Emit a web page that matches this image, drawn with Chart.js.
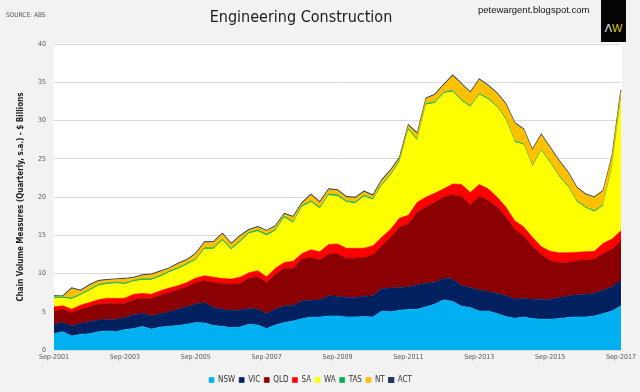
<!DOCTYPE html>
<html><head><meta charset="utf-8">
<script src="https://cdn.jsdelivr.net/npm/chart.js@4.4.0/dist/chart.umd.min.js"></script>
<style>
html,body{margin:0;padding:0;background:#f2f2f2;}
#wrap{position:relative;width:640px;height:392px;overflow:hidden;background:#f2f2f2;}
canvas{position:absolute;left:0;top:0;}
.src{position:absolute;left:6px;top:11px;font:6.5px 'DejaVu Sans Condensed',sans-serif;color:#555;}
.blog{position:absolute;left:478px;top:4px;font:9.5px 'Liberation Sans',Arial,sans-serif;color:#111;}
.logo{position:absolute;left:601px;top:0;width:25px;height:42px;background:#050505;font:11px 'Liberation Sans',sans-serif;text-align:center;line-height:12px;}
.logo span{position:relative;top:22px;}
</style></head>
<body><div id="wrap"><canvas id="c" width="640" height="392"></canvas>
<div class="src">SOURCE: ABS</div>
<div class="blog">petewargent.blogspot.com</div>
<div class="logo"><span style="color:#e8e8e8">Λ</span><span style="color:#d8c61c">W</span></div>
</div>
<script>
const quarters = [
'Sep-2001','Dec-2001',
'Mar-2002','Jun-2002','Sep-2002','Dec-2002',
'Mar-2003','Jun-2003','Sep-2003','Dec-2003',
'Mar-2004','Jun-2004','Sep-2004','Dec-2004',
'Mar-2005','Jun-2005','Sep-2005','Dec-2005',
'Mar-2006','Jun-2006','Sep-2006','Dec-2006',
'Mar-2007','Jun-2007','Sep-2007','Dec-2007',
'Mar-2008','Jun-2008','Sep-2008','Dec-2008',
'Mar-2009','Jun-2009','Sep-2009','Dec-2009',
'Mar-2010','Jun-2010','Sep-2010','Dec-2010',
'Mar-2011','Jun-2011','Sep-2011','Dec-2011',
'Mar-2012','Jun-2012','Sep-2012','Dec-2012',
'Mar-2013','Jun-2013','Sep-2013','Dec-2013',
'Mar-2014','Jun-2014','Sep-2014','Dec-2014',
'Mar-2015','Jun-2015','Sep-2015','Dec-2015',
'Mar-2016','Jun-2016','Sep-2016','Dec-2016',
'Mar-2017','Jun-2017','Sep-2017'];
const tickLabels = ['Sep-2001','Sep-2003','Sep-2005','Sep-2007','Sep-2009','Sep-2011','Sep-2013','Sep-2015','Sep-2017'];

const nsw = [2.14,2.40,1.84,2.05,2.14,2.40,2.50,2.40,2.67,2.80,
3.06,2.75,3.00,3.10,3.20,3.37,3.60,3.54,3.20,3.10,
2.93,3.00,3.37,3.28,2.80,3.28,3.60,3.80,4.10,4.30,
4.30,4.46,4.46,4.33,4.33,4.37,4.33,5.10,5.00,5.20,
5.30,5.33,5.64,6.00,6.56,6.34,5.73,5.55,5.10,5.10,
4.77,4.37,4.15,4.33,4.11,4.02,4.02,4.11,4.24,4.33,
4.33,4.46,4.77,5.11,5.77];
const vic = [1.23,1.20,1.31,1.40,1.56,1.53,1.50,1.60,1.58,1.80,
1.71,1.71,1.77,1.90,2.13,2.27,2.40,2.66,2.35,2.23,
2.27,2.20,2.09,2.05,1.97,2.05,2.17,2.06,2.33,2.20,
2.26,2.62,2.58,2.53,2.53,2.67,2.75,2.94,3.10,2.97,
2.96,3.19,3.10,2.83,2.84,2.93,2.67,2.62,2.73,2.55,
2.66,2.71,2.49,2.45,2.53,2.62,2.58,2.75,2.84,2.88,
2.97,2.97,3.05,3.15,3.36];
const qld = [1.73,1.73,1.75,1.88,1.94,2.07,2.08,2.08,1.83,1.96,
2.01,2.27,2.40,2.52,2.54,2.62,2.83,2.85,3.28,3.37,
3.40,3.50,3.94,4.24,4.06,4.59,4.93,4.84,5.47,5.60,
5.20,5.47,5.51,5.14,5.14,5.06,5.38,5.60,6.63,7.87,
8.24,9.48,9.96,10.47,10.60,11.03,11.67,10.83,12.24,11.95,
11.27,10.32,9.16,8.12,6.96,5.86,5.07,4.59,4.37,4.46,
4.50,4.47,4.78,4.94,5.17];
const sa = [0.54,0.44,0.43,0.53,0.56,0.56,0.70,0.65,0.70,0.74,
0.61,0.57,0.57,0.58,0.53,0.57,0.57,0.65,0.67,0.65,
0.67,0.80,0.70,0.79,0.74,0.78,0.75,0.90,0.70,1.00,
1.09,1.25,1.31,1.30,1.30,1.20,1.18,1.10,1.05,1.20,
1.10,1.30,1.30,1.20,1.07,1.40,1.57,1.60,1.57,1.47,
1.30,1.30,1.10,1.20,1.15,1.00,1.23,1.25,1.25,1.10,
1.05,1.00,1.35,1.30,1.30];
const wa = [1.14,1.01,1.31,1.31,1.54,1.84,1.82,1.97,1.82,1.66,
1.75,1.84,1.83,2.04,2.18,2.32,2.36,3.50,3.70,4.95,
3.83,4.60,5.10,5.14,5.38,4.90,5.85,5.00,6.10,6.20,
5.60,6.40,6.24,6.00,5.85,6.75,5.97,6.75,7.02,7.31,
11.15,8.05,12.05,11.75,12.48,12.05,10.91,11.15,11.71,11.68,
11.75,11.37,10.27,10.72,9.20,12.55,11.55,9.95,8.65,6.58,
5.70,5.15,4.90,9.35,17.15];
const tas = [0.15,0.15,0.15,0.15,0.16,0.16,0.16,0.16,0.15,0.15,
0.16,0.16,0.16,0.17,0.17,0.17,0.17,0.18,0.18,0.18,
0.18,0.18,0.17,0.17,0.17,0.17,0.18,0.18,0.18,0.19,
0.19,0.19,0.18,0.18,0.18,0.18,0.17,0.17,0.17,0.17,
0.17,0.16,0.16,0.16,0.16,0.16,0.16,0.15,0.15,0.15,
0.15,0.15,0.15,0.15,0.14,0.14,0.14,0.14,0.14,0.14,
0.14,0.15,0.15,0.15,0.15];
const nt = [0.08,0.05,1.23,0.40,0.53,0.42,0.37,0.34,0.52,0.31,
0.43,0.53,0.50,0.33,0.49,0.42,0.61,0.67,0.67,0.67,
0.57,0.57,0.27,0.37,0.42,0.37,0.27,0.57,0.27,0.77,
0.62,0.57,0.57,0.47,0.52,0.42,0.36,0.48,0.47,0.32,
0.42,0.72,0.62,0.92,0.92,1.92,2.02,1.72,1.82,1.62,
1.62,1.90,2.30,1.85,2.02,1.92,1.82,1.92,1.72,1.72,
1.62,1.72,1.77,1.30,1.02];
const act = [0.07,0.07,0.08,0.08,0.08,0.08,0.08,0.08,0.08,0.08,
0.08,0.08,0.08,0.08,0.09,0.09,0.09,0.09,0.09,0.09,
0.09,0.09,0.09,0.09,0.09,0.09,0.09,0.10,0.10,0.10,
0.10,0.10,0.10,0.10,0.10,0.10,0.10,0.10,0.10,0.10,
0.10,0.10,0.10,0.10,0.10,0.09,0.09,0.09,0.09,0.09,
0.09,0.09,0.09,0.08,0.08,0.08,0.08,0.08,0.08,0.08,
0.08,0.08,0.08,0.08,0.08];

const seriesNames = ['NSW','VIC','QLD','SA','WA','TAS','NT','ACT'];
const seriesData = [nsw, vic, qld, sa, wa, tas, nt, act];
const seriesColors = ['#00b0f0','#002060','#8b0000','#ff0000','#ffff00','#00b050','#ffc000','#1f3864'];

const NARROW = "'DejaVu Sans Condensed',sans-serif";

const datasets = seriesNames.map((name, i) => ({
  label: name,
  data: seriesData[i],
  backgroundColor: seriesColors[i],
  borderColor: seriesColors[i],
  borderWidth: i === 7 ? 1.2 : 0.6,
  fill: i === 0 ? 'origin' : '-1',
  pointRadius: 0,
  tension: 0
}));

const bgPlugin = {
  id: 'bg',
  beforeDraw(chart) {
    const {ctx, chartArea: {left, top, right, bottom}} = chart;
    ctx.save();
    ctx.fillStyle = '#f2f2f2';
    ctx.fillRect(0, 0, chart.width, chart.height);
    ctx.fillStyle = '#ffffff';
    ctx.fillRect(left, top - 1, right - left + 1, bottom - top + 1);
    ctx.restore();
  },
  afterLayout(chart) {
    if (chart.titleBlock) { chart.titleBlock.left = 0; chart.titleBlock.right = 602; }
    if (chart.legend) { chart.legend.top += 2; chart.legend.bottom += 2; }
  }
};

new Chart(document.getElementById('c'), {
  type: 'line',
  data: { labels: quarters, datasets },
  plugins: [bgPlugin],
  options: {
    responsive: false,
    animation: false,
    devicePixelRatio: 1,
    layout: { padding: { left: 0, right: 19, top: 0, bottom: 0 } },
    plugins: {
      tooltip: { enabled: false },
      title: {
        display: true,
        text: 'Engineering Construction',
        color: '#1a1a1a',
        font: { family: NARROW, size: 16, weight: 'normal' },
        padding: { top: 8, bottom: 16.8 }
      },
      legend: {
        position: 'bottom',
        labels: {
          boxWidth: 5, boxHeight: 5, padding: 4,
          color: '#333',
          font: { family: NARROW, size: 8 }
        }
      }
    },
    scales: {
      x: {
        stacked: true,
        offset: false,
        grid: { display: false, drawTicks: false },
        border: { display: false },
        afterFit(scale) { scale.height = 20; },
        ticks: {
          autoSkip: false, maxRotation: 0, minRotation: 0, padding: 3,
          color: '#595959',
          font: { family: NARROW, size: 7 },
          callback(value, index) {
            const lab = quarters[index];
            return tickLabels.includes(lab) ? lab : null;
          }
        }
      },
      y: {
        stacked: true,
        min: 0, max: 40,
        afterFit(scale) { scale.width = 54; },
        grid: { color: '#d9d9d9', lineWidth: 1, drawTicks: false },
        border: { display: false },
        ticks: {
          stepSize: 5, padding: 8,
          color: '#595959',
          font: { family: NARROW, size: 7 }
        },
        title: {
          display: true,
          text: 'Chain Volume Measures (Quarterly, s.a.) - $ Billions',
          color: '#222',
          font: { family: NARROW, size: 8, weight: 'bold' },
          padding: { top: 16, bottom: 0 }
        }
      }
    }
  }
});
</script>
</body></html>
